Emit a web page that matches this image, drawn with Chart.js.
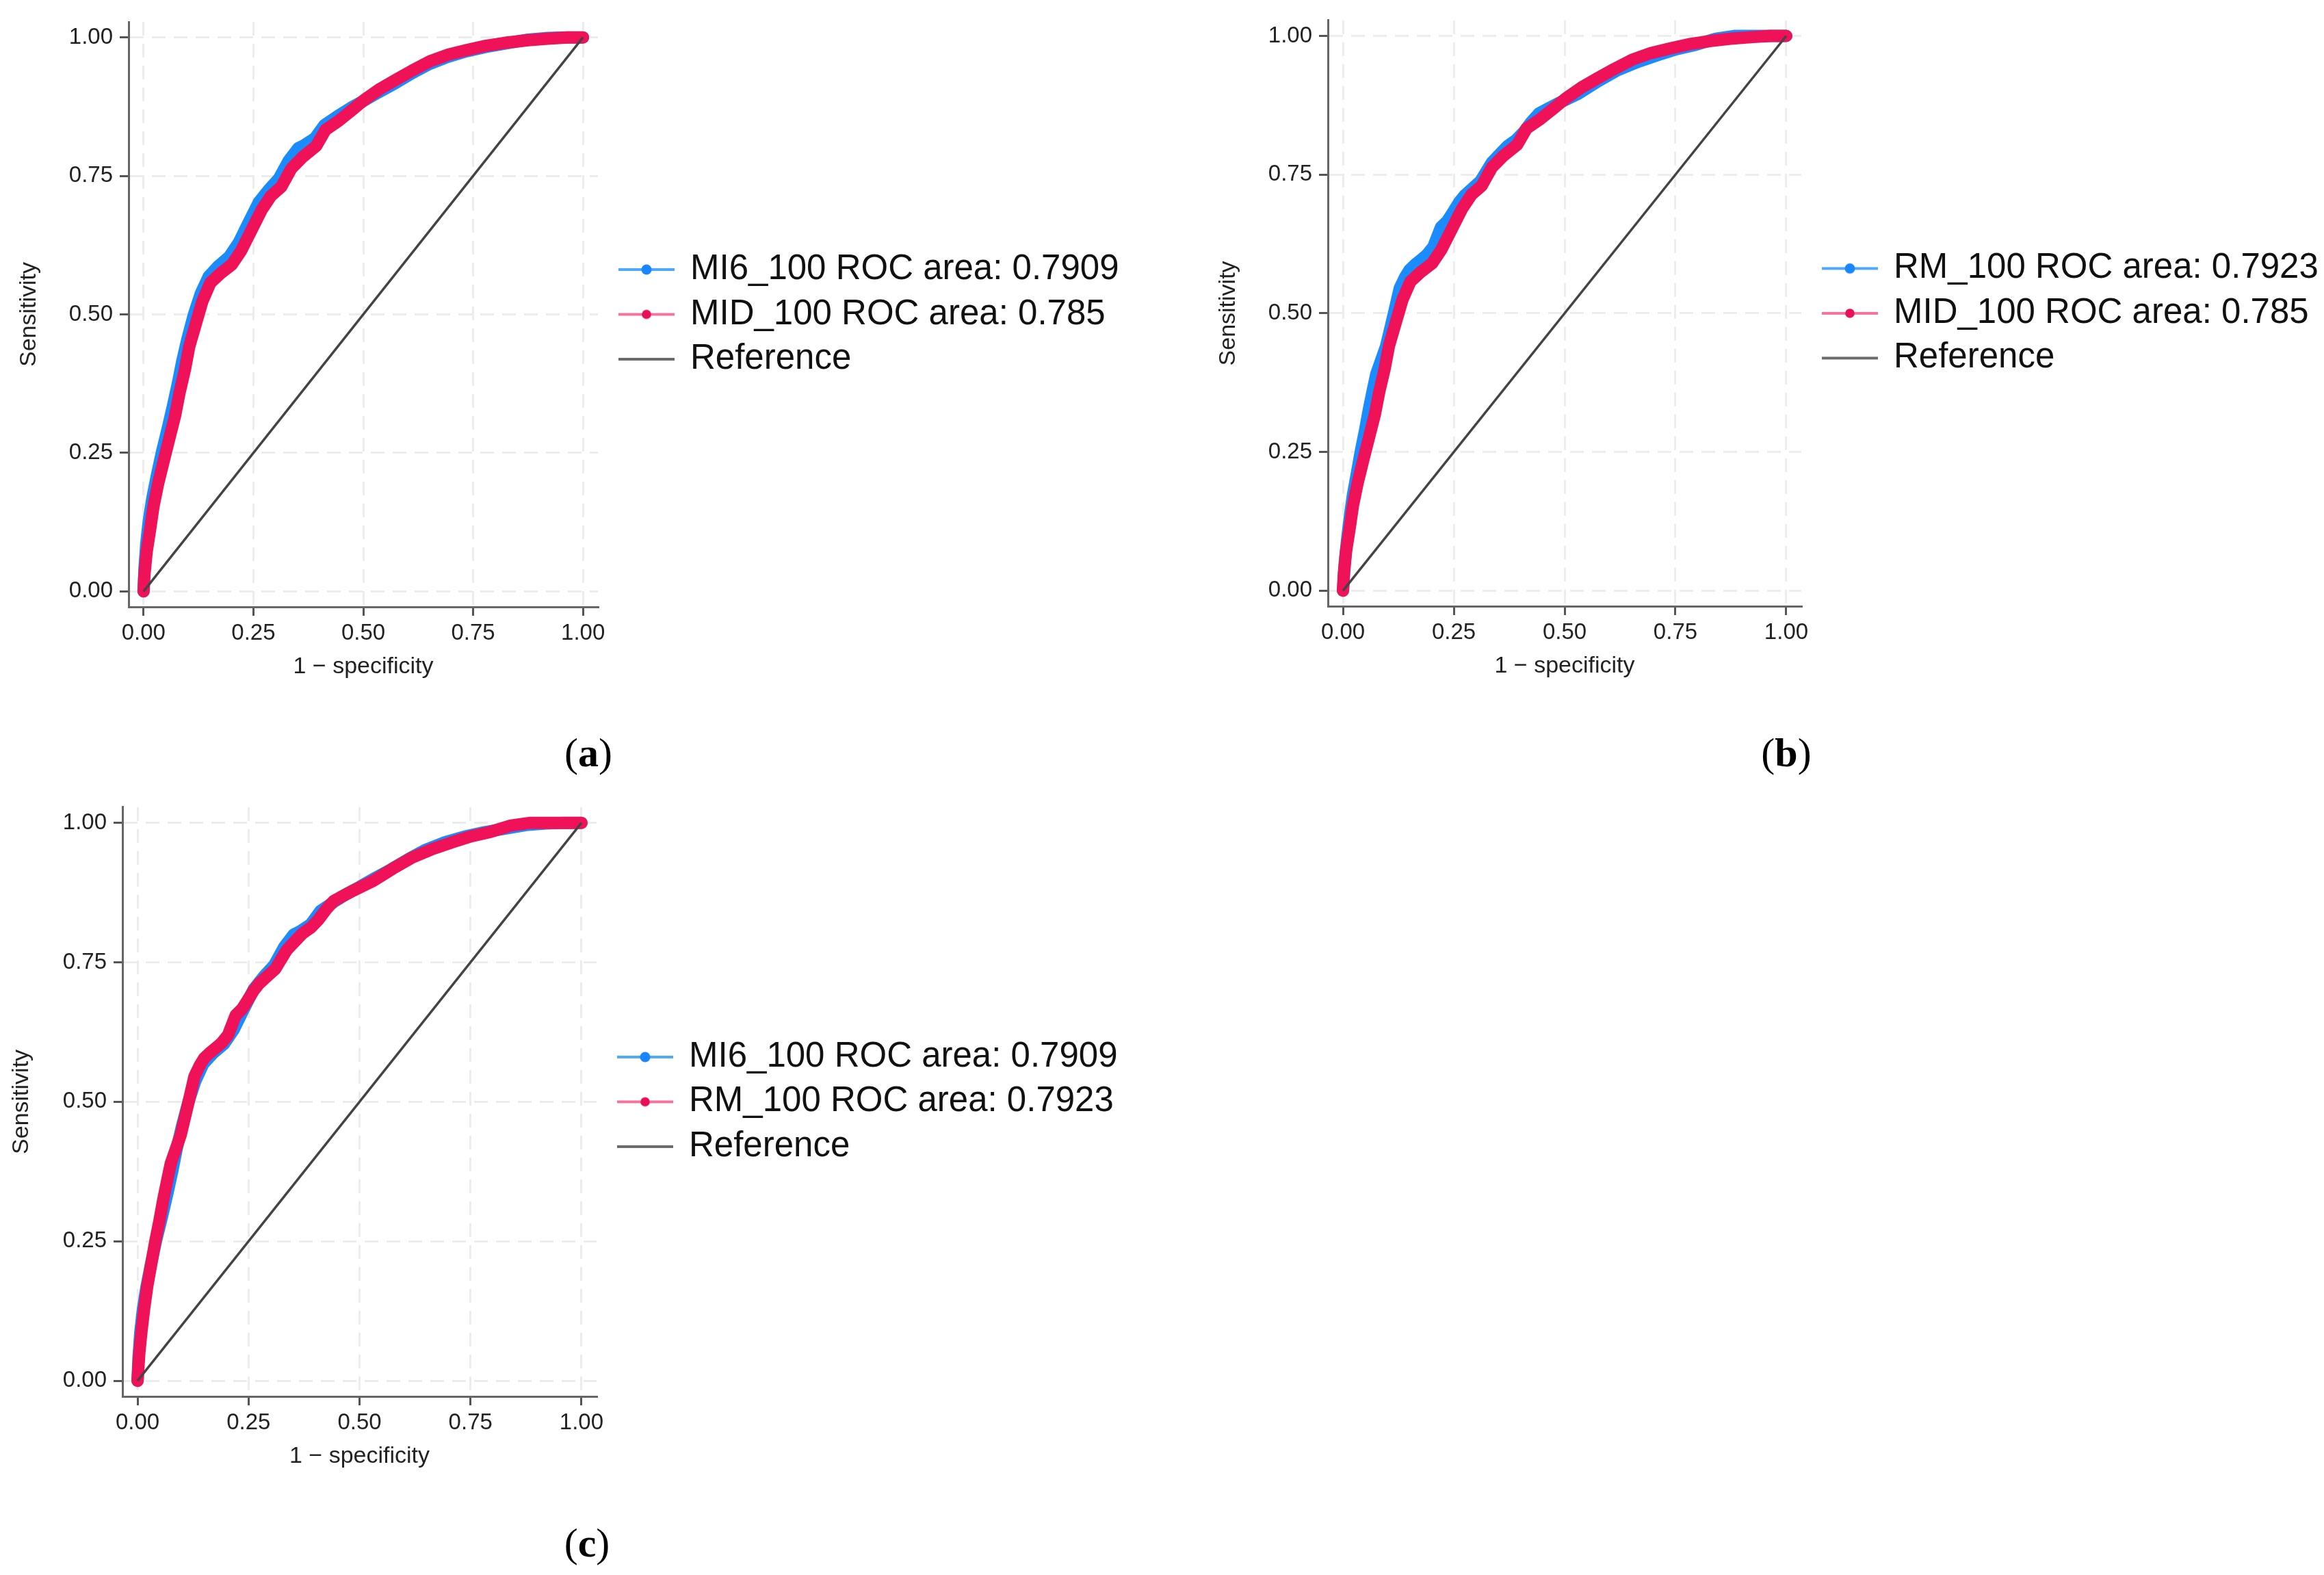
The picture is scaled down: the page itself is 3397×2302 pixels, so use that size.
<!DOCTYPE html>
<html>
<head>
<meta charset="utf-8">
<title>ROC curves</title>
<script src="https://cdn.jsdelivr.net/npm/chart.js@4.4.1/dist/chart.umd.min.js"></script>
<style>
  html, body { margin: 0; padding: 0; background: #fff; }
  body { width: 3397px; height: 2302px; position: relative; overflow: hidden; }
  canvas { position: absolute; }
  .tag { position: absolute; font-family: "Liberation Serif", "Times New Roman", serif; font-size: 60px;
         line-height: 1; color: #000; transform: translate(-50%, -50%); white-space: nowrap; }
</style>
</head>
<body>
<canvas id="rocA"></canvas>
<canvas id="rocB"></canvas>
<canvas id="rocC"></canvas>
<div class="tag" style="left:860px;top:1100px">(<b>a</b>)</div>
<div class="tag" style="left:2611px;top:1100px">(<b>b</b>)</div>
<div class="tag" style="left:858px;top:2255px">(<b>c</b>)</div>
<script>
// ---- data ----
const axisTicks = [0, 0.25, 0.5, 0.75, 1];
const xTitle = '1 − specificity';
const yTitle = 'Sensitivity';

const refX = [0, 1];
const refY = [0, 1];

const fprMI6 = [0, 0.002, 0.006, 0.012, 0.02, 0.03, 0.042, 0.055, 0.067, 0.078, 0.088, 0.1, 0.114, 0.13,
  0.148, 0.17, 0.195, 0.217, 0.238, 0.262, 0.285, 0.308, 0.33, 0.352, 0.365, 0.39, 0.412, 0.442, 0.472,
  0.5, 0.535, 0.572, 0.61, 0.65, 0.692, 0.735, 0.78, 0.83, 0.875, 0.92, 0.96, 1];
const tprMI6 = [0, 0.04, 0.085, 0.128, 0.168, 0.208, 0.252, 0.294, 0.335, 0.375, 0.415, 0.456, 0.498, 0.537,
  0.568, 0.587, 0.604, 0.63, 0.664, 0.702, 0.725, 0.745, 0.777, 0.8, 0.805, 0.818, 0.842, 0.858, 0.873,
  0.885, 0.901, 0.917, 0.935, 0.952, 0.965, 0.975, 0.983, 0.99, 0.996, 0.999, 1, 1];

const fprMID = [0, 0.002, 0.007, 0.015, 0.0225, 0.033, 0.046, 0.059, 0.072, 0.082, 0.094, 0.104, 0.119, 0.134,
  0.152, 0.175, 0.201, 0.222, 0.243, 0.269, 0.29, 0.313, 0.336, 0.362, 0.393, 0.414, 0.445, 0.476, 0.502,
  0.538, 0.575, 0.611, 0.652, 0.694, 0.735, 0.78, 0.83, 0.875, 0.925, 0.965, 1];
const tprMID = [0, 0.03, 0.071, 0.112, 0.153, 0.194, 0.236, 0.277, 0.318, 0.359, 0.4, 0.442, 0.483, 0.524,
  0.557, 0.574, 0.59, 0.615, 0.648, 0.689, 0.714, 0.73, 0.763, 0.784, 0.804, 0.833, 0.85, 0.87, 0.887,
  0.907, 0.924, 0.94, 0.957, 0.969, 0.977, 0.985, 0.991, 0.995, 0.998, 1, 1];

const fprRM = [0, 0.004, 0.009, 0.015, 0.022, 0.031, 0.04, 0.05, 0.058, 0.067, 0.075, 0.086, 0.097, 0.106,
  0.115, 0.128, 0.14, 0.15, 0.163, 0.177, 0.19, 0.204, 0.221, 0.235, 0.248, 0.262, 0.274, 0.292, 0.31,
  0.336, 0.355, 0.372, 0.39, 0.407, 0.425, 0.442, 0.465, 0.487, 0.531, 0.575, 0.619, 0.664, 0.708, 0.752,
  0.796, 0.841, 0.885, 0.94, 1];
const tprRM = [0, 0.05, 0.09, 0.13, 0.17, 0.21, 0.25, 0.29, 0.325, 0.36, 0.39, 0.415, 0.44, 0.47,
  0.5, 0.545, 0.565, 0.578, 0.588, 0.597, 0.606, 0.62, 0.655, 0.666, 0.682, 0.7, 0.712, 0.725, 0.738,
  0.772, 0.788, 0.802, 0.812, 0.826, 0.845, 0.86, 0.87, 0.879, 0.896, 0.918, 0.938, 0.953, 0.965, 0.976,
  0.984, 0.995, 1, 1, 1];

const modelNames = ['MI6_100', 'MID_100', 'RM_100'];
const rocAreas = [0.7909, 0.785, 0.7923];

// ---- styling ----
const FONT = '"Liberation Sans", Arial, Helvetica, sans-serif';
const BLUE = '#1a8cff';
const RED = '#f01259';
const X_MIN = -0.034, X_MAX = 1.034;
const Y_MIN = -0.028, Y_MAX = 1.028;
const X_AXIS_H = 108;
const LEGEND_FONT = 51;
const LEGEND_PAD = 14.5;
const LEGEND_BOX = 95;

const curves = {
    MI6: { name: modelNames[0], auc: rocAreas[0], fpr: fprMI6, tpr: tprMI6 },
    MID: { name: modelNames[1], auc: rocAreas[1], fpr: fprMID, tpr: tprMID },
    RM:  { name: modelNames[2], auc: rocAreas[2], fpr: fprRM,  tpr: tprRM }
};

const panels = [
    { id: 'rocA', left: 0,    top: 0,    yAxisW: 188, plotW: 686, plotH: 855, padTop: 32, padBottom: 5, titlePad: 22.6, pair: ['MI6', 'MID'] },
    { id: 'rocB', left: 1753, top: 0,    yAxisW: 188, plotW: 692, plotH: 857, padTop: 29, padBottom: 6, titlePad: 22.6, pair: ['RM', 'MID'] },
    { id: 'rocC', left: 0,    top: 1150, yAxisW: 179, plotW: 693, plotH: 865, padTop: 26, padBottom: 6, titlePad: 11.6, pair: ['MI6', 'RM'] }
];

function toPoints(xs, ys) {
    return xs.map((x, i) => ({ x: x, y: ys[i] }));
}

// legend box gets clipped by Chart.js, so size it to the widest label
function legendWidth(labels) {
    const g = document.createElement('canvas').getContext('2d');
    g.font = LEGEND_FONT + 'px ' + FONT;
    const widest = Math.max(...labels.map(t => g.measureText(t).width));
    return Math.floor(LEGEND_PAD + LEGEND_BOX + LEGEND_FONT / 2 + widest + 10);
}

function legendIcon(lineColor, dotColor, dotR) {
    const c = document.createElement('canvas');
    c.width = 100;
    c.height = 20;
    const g = c.getContext('2d');
    g.strokeStyle = lineColor;
    g.lineWidth = 4;
    g.beginPath();
    g.moveTo(18, 10);
    g.lineTo(100, 10);
    g.stroke();
    if (dotColor) {
        g.fillStyle = dotColor;
        g.beginPath();
        g.arc(59, 10, dotR, 0, Math.PI * 2);
        g.fill();
    }
    return c;
}

const icons = [
    legendIcon('#4da8ff', '#1a85ff', 7.5),
    legendIcon('#f7729c', '#e80f55', 6.8),
    legendIcon('#6a6a6a', null, 0)
];

function axisOptions(isX, p) {
    return {
        type: 'linear',
        min: isX ? X_MIN : Y_MIN,
        max: isX ? X_MAX : Y_MAX,
        afterBuildTicks: s => { s.ticks = axisTicks.map(v => ({ value: v })); },
        afterFit: s => {
            if (isX) s.height = X_AXIS_H;
            else s.width = p.yAxisW;
        },
        ticks: {
            callback: v => Number(v).toFixed(2),
            font: { family: FONT, size: 33 },
            color: '#222',
            padding: isX ? 6 : 10,
            autoSkip: false,
            maxRotation: 0
        },
        grid: { color: '#ececec', lineWidth: 3, tickLength: 13, tickColor: '#555', tickWidth: 3 },
        border: { color: '#666', width: 3, dash: [20, 12] },
        title: {
            display: true,
            text: isX ? xTitle : yTitle,
            font: { family: FONT, size: 34 },
            color: '#222',
            padding: isX ? { top: 0, bottom: 0 } : { top: p.titlePad, bottom: 0 }
        }
    };
}

function buildChart(p) {
    const c1 = curves[p.pair[0]];
    const c2 = curves[p.pair[1]];
    const labels = [c1.name + ' ROC area: ' + c1.auc, c2.name + ' ROC area: ' + c2.auc, 'Reference'];
    const legW = legendWidth(labels);

    const canvas = document.getElementById(p.id);
    const width = p.yAxisW + p.plotW + legW + 4;
    const height = p.padTop + p.plotH + X_AXIS_H + p.padBottom;
    canvas.width = width;
    canvas.height = height;
    Object.assign(canvas.style, { left: p.left + 'px', top: p.top + 'px', width: width + 'px', height: height + 'px' });

    const curveStyle = { showLine: true, borderWidth: 18, borderCapStyle: 'round', borderJoinStyle: 'round',
                         pointRadius: 0, pointHoverRadius: 0, tension: 0 };

    new Chart(canvas, {
        type: 'scatter',
        data: {
            datasets: [
                Object.assign({ label: labels[0], data: toPoints(c1.fpr, c1.tpr),
                                borderColor: BLUE, backgroundColor: BLUE, order: 2 }, curveStyle),
                Object.assign({ label: labels[1], data: toPoints(c2.fpr, c2.tpr),
                                borderColor: RED, backgroundColor: RED, order: 1 }, curveStyle),
                { label: labels[2], data: toPoints(refX, refY), showLine: true, borderColor: '#444',
                  backgroundColor: '#444', borderWidth: 3.5, pointRadius: 0, pointHoverRadius: 0, order: 0 }
            ]
        },
        options: {
            responsive: false,
            animation: false,
            devicePixelRatio: 1,
            events: [],
            layout: { padding: { left: 0, top: p.padTop, right: 4, bottom: p.padBottom } },
            plugins: {
                tooltip: { enabled: false },
                legend: {
                    position: 'right',
                    align: 'center',
                    fullSize: false,
                    maxWidth: legW,
                    labels: {
                        usePointStyle: true,
                        pointStyleWidth: LEGEND_BOX,
                        padding: LEGEND_PAD,
                        color: '#111',
                        font: { family: FONT, size: LEGEND_FONT },
                        sort: (a, b) => a.datasetIndex - b.datasetIndex,
                        generateLabels: chart => {
                            const items = Chart.defaults.plugins.legend.labels.generateLabels(chart);
                            items.forEach(it => { it.pointStyle = icons[it.datasetIndex]; });
                            return items;
                        }
                    }
                }
            },
            scales: {
                x: axisOptions(true, p),
                y: axisOptions(false, p)
            }
        }
    });
}

panels.forEach(buildChart);
</script>
</body>
</html>
